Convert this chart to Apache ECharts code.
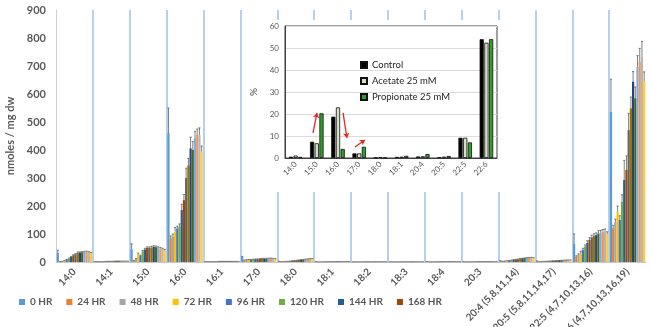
<!DOCTYPE html>
<html>
<head>
<meta charset="utf-8">
<script src="https://cdn.jsdelivr.net/npm/echarts@6/dist/echarts.min.js"></script>
<style>
  html, body { margin: 0; padding: 0; background: #fff; }
  #chart { width: 651px; height: 327px; }
</style>
</head>
<body>
<div id="chart"></div>
<script>
// main chart: fatty acid content over time (16 series, only first 8 in legend)
const categories = [
  "14:0", "14:1", "15:0", "16:0", "16:1", "17:0", "18:0", "18:1", "18:2", "18:3", "18:4", "20:3",
  "20:4 (5,8,11,14)", "20:5 (5,8,11,14,17)", "22:5 (4,7,10,13,16)", "22:6 (4,7,10,13,16,19)",
];
const seriesNames = [
  "0 HR", "24 HR", "48 HR", "72 HR", "96 HR", "120 HR", "144 HR", "168 HR",
  "Series 9", "Series 10", "Series 11", "Series 12", "Series 13", "Series 14", "Series 15", "Series 16",
];
const legendNames = seriesNames.slice(0, 8);
const seriesColors = [
  "#5B9BD5", "#ED7D31", "#A5A5A5", "#FFC000", "#4472C4", "#70AD47", "#255E91", "#9E480E",
  "#636363", "#997300", "#264478", "#43682B", "#7CAFDD", "#F1975A", "#B7B7B7", "#FFCD33",
];

const s01 = [32, 1, 45, 460, 1, 18, 2, 1, 0.5, 0.5, 1, 1, 4, 3, 65, 536];
const s02 = [1, 1, 5, 85, 1, 6, 1, 0.5, 0.5, 0.5, 0.5, 0.5, 2, 1, 19, 121];
const s03 = [2, 1, 10, 90, 1, 7, 1, 0.5, 0.5, 0.5, 0.5, 0.5, 3, 1, 25, 143];
const s04 = [4, 1, 28, 108, 1, 8, 2, 0.6, 0.5, 0.5, 0.6, 0.6, 4, 2, 30, 180];
const s05 = [8, 1, 22, 120, 1, 8, 2, 0.6, 0.5, 0.5, 0.6, 0.6, 5, 2, 43, 150];
const s06 = [12, 2, 38, 126, 1, 9, 3, 0.7, 0.5, 0.5, 0.7, 0.7, 6, 3, 55, 215];
const s07 = [18, 2, 45, 186, 2, 10, 4, 0.8, 0.6, 0.6, 0.8, 0.8, 8, 3, 68, 293];
const s08 = [24, 2, 50, 221, 2, 10, 5, 0.9, 0.6, 0.6, 0.9, 0.9, 9, 4, 79, 329];
const s09 = [28, 2, 50, 300, 2, 11, 6, 1, 0.6, 0.6, 1, 1, 10, 4, 88, 471];
const s10 = [33, 3, 52, 345, 2, 12, 7, 1, 0.7, 0.7, 1, 1, 12, 5, 93, 549];
const s11 = [34, 3, 54, 406, 2, 12, 8, 1, 0.7, 0.7, 1, 1, 13, 5, 96, 644];
const s12 = [35, 3, 53, 400, 2, 12, 9, 1, 0.7, 0.7, 1, 1, 14, 6, 102, 585];
const s13 = [36, 3, 50, 442, 2, 13, 10, 1.1, 0.8, 0.8, 1.1, 1.1, 15, 6, 105, 697];
const s14 = [37, 3, 48, 455, 2, 13, 11, 1.1, 0.8, 0.8, 1.1, 1.1, 16, 7, 108, 715];
const s15 = [35, 3, 46, 454, 2, 12, 12, 1.1, 0.8, 0.8, 1.1, 1.1, 16, 7, 110, 733];
const s16 = [32, 3, 42, 394, 2, 11, 12, 1, 0.8, 0.8, 1, 1, 15, 7, 100, 644];

// error bars (plus side only)
const e01 = [10, 0.3, 20, 90, 0.3, 2, 0.5, 0.3, 0.2, 0.2, 0.3, 0.3, 1, 1, 35, 117];
const e02 = [0.5, 0.2, 1, 8, 0.2, 1, 0.3, 0.2, 0.2, 0.2, 0.2, 0.2, 0.5, 0.3, 3, 10];
const e03 = [0.5, 0.2, 2, 10, 0.2, 1, 0.3, 0.2, 0.2, 0.2, 0.2, 0.2, 0.5, 0.3, 4, 10];
const e04 = [1, 0.2, 4, 15, 0.2, 1, 0.3, 0.2, 0.2, 0.2, 0.2, 0.2, 0.5, 0.3, 8, 20];
const e05 = [1, 0.2, 2, 8, 0.2, 1, 0.3, 0.2, 0.2, 0.2, 0.2, 0.2, 0.5, 0.3, 6, 15];
const e06 = [2, 0.2, 3, 10, 0.2, 1, 0.3, 0.2, 0.2, 0.2, 0.2, 0.2, 0.5, 0.3, 6, 25];
const e07 = [2, 0.3, 4, 20, 0.2, 1, 0.3, 0.2, 0.2, 0.2, 0.2, 0.2, 0.5, 0.3, 8, 70];
const e08 = [2, 0.3, 4, 20, 0.2, 1, 0.3, 0.2, 0.2, 0.2, 0.2, 0.2, 0.5, 0.3, 8, 50];
const e09 = [2, 0.3, 4, 35, 0.2, 1, 0.3, 0.2, 0.2, 0.2, 0.2, 0.2, 0.5, 0.3, 8, 60];
const e10 = [3, 0.3, 4, 25, 0.2, 1, 0.3, 0.2, 0.2, 0.2, 0.2, 0.2, 0.5, 0.3, 8, 40];
const e11 = [2, 0.3, 4, 40, 0.2, 1, 0.3, 0.2, 0.2, 0.2, 0.2, 0.2, 0.5, 0.3, 8, 36];
const e12 = [2, 0.3, 4, 30, 0.2, 1, 0.3, 0.2, 0.2, 0.2, 0.2, 0.2, 0.5, 0.3, 10, 40];
const e13 = [2, 0.3, 4, 25, 0.2, 1, 0.3, 0.2, 0.2, 0.2, 0.2, 0.2, 0.5, 0.3, 8, 40];
const e14 = [2, 0.3, 4, 20, 0.2, 1, 0.3, 0.2, 0.2, 0.2, 0.2, 0.2, 0.5, 0.3, 8, 48];
const e15 = [2, 0.3, 3, 25, 0.2, 1, 0.3, 0.2, 0.2, 0.2, 0.2, 0.2, 0.5, 0.3, 8, 55];
const e16 = [2, 0.3, 3, 20, 0.2, 1, 0.3, 0.2, 0.2, 0.2, 0.2, 0.2, 0.5, 0.3, 8, 35];

const seriesValues = [s01, s02, s03, s04, s05, s06, s07, s08, s09, s10, s11, s12, s13, s14, s15, s16];
const seriesErrors = [e01, e02, e03, e04, e05, e06, e07, e08, e09, e10, e11, e12, e13, e14, e15, e16];

// inset: percent composition
const insetCategories = ["14:0", "15:0", "16:0", "17:0", "18:0", "18:1", "20:4", "20:5", "22:5", "22:6"];
const controlPct = [0.6, 7.4, 18.8, 2.1, 0.2, 0.5, 0.7, 0.3, 9.2, 54.0];
const acetatePct = [1.1, 6.7, 23.0, 2.1, 0.4, 0.6, 0.8, 0.6, 9.2, 52.4];
const propionatePct = [0.5, 20.3, 4.1, 5.1, 0.1, 1.0, 1.8, 0.9, 7.1, 54.0];
// arrows in inset data units (x: 0..10 across categories, y: %)
const arrowLines = [
  [[1.32, 11.4], [1.51, 20.5]],
  [[2.74, 20.5], [2.92, 9.1]],
  [[3.30, 5.0], [3.77, 8.2]],
];

const FONT = "Lato, 'Noto Sans', sans-serif";
const GREY = "#595959";
const BAR_CAT_GAP = 0.04;

const chart = echarts.init(document.getElementById("chart"), null, { renderer: "canvas" });

const barSeries = seriesValues.map((values, i) => ({
  name: seriesNames[i],
  type: "bar",
  xAxisIndex: 0,
  yAxisIndex: 0,
  data: values,
  barGap: "0%",
  barCategoryGap: BAR_CAT_GAP * 100 + "%",
  itemStyle: { color: seriesColors[i] },
  animation: false,
}));

const errorData = [];
seriesValues.forEach((values, s) => {
  values.forEach((v, c) => {
    errorData.push([c, v, seriesErrors[s][c], s]);
  });
});

function renderErrorBar(params, api) {
  const c = api.value(0);
  const v = api.value(1);
  const e = api.value(2);
  const s = api.value(3);
  const band = api.size([1, 0])[0];
  const usable = band * (1 - BAR_CAT_GAP);
  const bw = usable / seriesValues.length;
  const base = api.coord([c, v]);
  const top = api.coord([c, v + e]);
  const x = base[0] - usable / 2 + (s + 0.5) * bw;
  const style = { stroke: "#5f5f5f", lineWidth: 0.8 };
  return {
    type: "group",
    children: [
      { type: "line", shape: { x1: x, y1: base[1], x2: x, y2: top[1] }, style },
      { type: "line", shape: { x1: x - bw / 2, y1: top[1], x2: x + bw / 2, y2: top[1] }, style },
    ],
  };
}

const insetBar = (name, data, color) => ({
  name,
  type: "bar",
  xAxisIndex: 1,
  yAxisIndex: 1,
  data,
  barGap: "12%",
  barCategoryGap: "36%",
  itemStyle: { color, borderColor: "#111", borderWidth: 0.8 },
  z: 6,
  animation: false,
});

chart.setOption({
  animation: false,
  textStyle: { fontFamily: FONT },
  grid: [
    { left: 56, right: 5, top: 10, bottom: 65, containLabel: false, outerBoundsMode: "none" },
    {
      left: 285, top: 26, width: 212, height: 132, containLabel: false, outerBoundsMode: "none",
      show: true, backgroundColor: "#fff", borderColor: "#404040", borderWidth: 1, z: 3,
    },
  ],
  graphic: [
    { type: "rect", shape: { x: 243, y: 20, width: 268, height: 172 }, style: { fill: "#fff" }, z: 1 },
  ],
  legend: [
    {
      data: legendNames,
      left: 14,
      top: 292,
      icon: "rect",
      itemWidth: 6,
      itemHeight: 6,
      itemGap: 14,
      textStyle: { color: GREY, fontSize: 10, fontWeight: "bold", fontFamily: FONT },
    },
    {
      data: ["Control", "Acetate 25 mM", "Propionate 25 mM"],
      orient: "vertical",
      left: 355,
      top: 55,
      icon: "rect",
      itemWidth: 6,
      itemHeight: 6,
      itemGap: 6,
      z: 7,
      textStyle: { color: "#262626", fontSize: 9.5, fontFamily: FONT },
    },
  ],
  xAxis: [
    {
      type: "category",
      gridIndex: 0,
      data: categories,
      axisLine: { lineStyle: { color: "#c8c8c8" } },
      axisTick: { show: false },
      axisLabel: {
        interval: 0, rotate: 45, margin: 8, color: GREY, fontSize: 10, fontWeight: "bold", fontFamily: FONT,
      },
      splitLine: {
        show: true, interval: 0, showMinLine: false, showMaxLine: false,
        lineStyle: { color: "#9dc3e6", width: 1.5 },
      },
    },
    {
      type: "category",
      gridIndex: 1,
      position: "bottom",
      data: insetCategories,
      axisLine: { lineStyle: { color: "#404040" } },
      axisTick: { show: false },
      axisLabel: { interval: 0, rotate: 45, margin: 5, color: GREY, fontSize: 8, fontFamily: FONT },
      z: 5,
    },
    { type: "value", gridIndex: 1, position: "top", min: 0, max: 10, show: false },
  ],
  yAxis: [
    {
      type: "value",
      gridIndex: 0,
      min: 0,
      max: 900,
      interval: 100,
      name: "nmoles / mg dw",
      nameLocation: "middle",
      nameGap: 40,
      nameTextStyle: { color: GREY, fontSize: 11, fontWeight: "bold", fontFamily: FONT },
      axisLine: { show: true, lineStyle: { color: "#d0d0d0" } },
      axisTick: { show: false },
      axisLabel: { color: GREY, fontSize: 11, fontWeight: "bold", margin: 10, fontFamily: FONT },
      splitLine: { show: false },
    },
    {
      type: "value",
      gridIndex: 1,
      min: 0,
      max: 60,
      interval: 10,
      name: "%",
      nameLocation: "middle",
      nameGap: 26,
      nameTextStyle: { color: "#404040", fontSize: 10, fontFamily: FONT },
      axisLine: { show: true, lineStyle: { color: "#404040" } },
      axisTick: { show: false },
      axisLabel: { color: GREY, fontSize: 8, margin: 6, fontFamily: FONT },
      splitLine: { show: true, lineStyle: { color: "#dcdcdc" } },
      z: 5,
    },
  ],
  series: [
    ...barSeries,
    {
      type: "custom",
      name: "errors",
      xAxisIndex: 0,
      yAxisIndex: 0,
      data: errorData,
      encode: { x: 0, y: 1 },
      renderItem: renderErrorBar,
      z: 3,
      silent: true,
      animation: false,
    },
    insetBar("Control", controlPct, "#000000"),
    insetBar("Acetate 25 mM", acetatePct, "#d5dfc2"),
    insetBar("Propionate 25 mM", propionatePct, "#2f9f2c"),
    {
      type: "lines",
      coordinateSystem: "cartesian2d",
      xAxisIndex: 2,
      yAxisIndex: 1,
      data: arrowLines.map((coords) => ({ coords })),
      symbol: ["none", "arrow"],
      symbolSize: 5,
      lineStyle: { color: "#e3261f", width: 1.3, opacity: 1, curveness: 0 },
      z: 8,
      silent: true,
      animation: false,
    },
  ],
});

window.addEventListener("resize", () => chart.resize());
</script>
</body>
</html>
